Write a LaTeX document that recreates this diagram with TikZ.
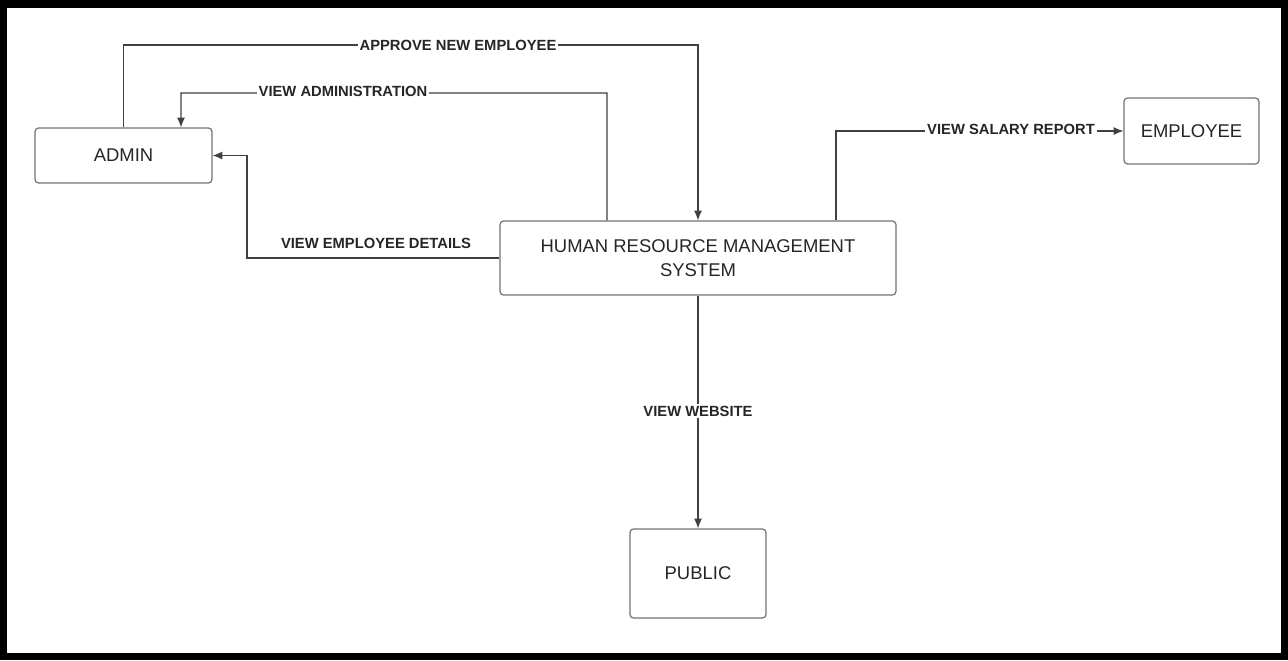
\documentclass[tikz,border=0pt]{standalone}
\usepackage{fontspec}
\setmainfont{Liberation Sans}
\usetikzlibrary{arrows.meta}
\begin{document}
\begin{tikzpicture}[x=0.02cm, y=-0.02cm,
  entity/.style={draw=black!55, line width=0.7pt, rounded corners=2pt, fill=white, align=center, font=\fontsize{10.5}{13.6}\selectfont, text=black!85, inner sep=0pt},
  flow/.style={draw=black!75, line width=0.7pt, -{Latex[length=5.5pt,width=4.5pt]}},
  flowlabel/.style={fill=white, inner sep=1pt, font=\bfseries\fontsize{8.4}{10}\selectfont, text=black!85}]
\useasboundingbox (0,0) rectangle (1288,660);
\draw[line width=0.15cm] (3.75,3.75) rectangle (1284.25,656.25);
% entities
\node[entity, minimum width=3.54cm, minimum height=1.1cm] (admin) at (123.5,155.5) {ADMIN};
\node[entity, minimum width=7.92cm, minimum height=1.48cm] (hrms) at (698,258) {HUMAN RESOURCE MANAGEMENT\\SYSTEM};
\node[entity, minimum width=2.7cm, minimum height=1.32cm] (employee) at (1191.5,131) {EMPLOYEE};
\node[entity, minimum width=2.72cm, minimum height=1.78cm] (public) at (698,573.5) {PUBLIC};
% flows
\draw[flow] (admin.north) |- (698,45) -- (hrms.north);
\node[flowlabel] (approve) at (458,45) {APPROVE NEW EMPLOYEE};
\draw[flow] ([xshift=-1.82cm]hrms.north) |- (181,93) -- ([xshift=1.15cm]admin.north);
\node[flowlabel] (viewadmin) at (343,91) {VIEW ADMINISTRATION};
\draw[flow] (hrms.west) -- (247,258) |- (admin.east);
\node[flowlabel, fill=none] (viewdetails) at (376,243) {VIEW EMPLOYEE DETAILS};
\draw[flow] ([xshift=2.76cm]hrms.north) |- (employee.west);
\node[flowlabel] (viewsalary) at (1011,129) {VIEW SALARY REPORT};
\draw[flow] (hrms.south) -- (public.north);
\node[flowlabel] (viewweb) at (698,411) {VIEW WEBSITE};
\end{tikzpicture}
\end{document}
